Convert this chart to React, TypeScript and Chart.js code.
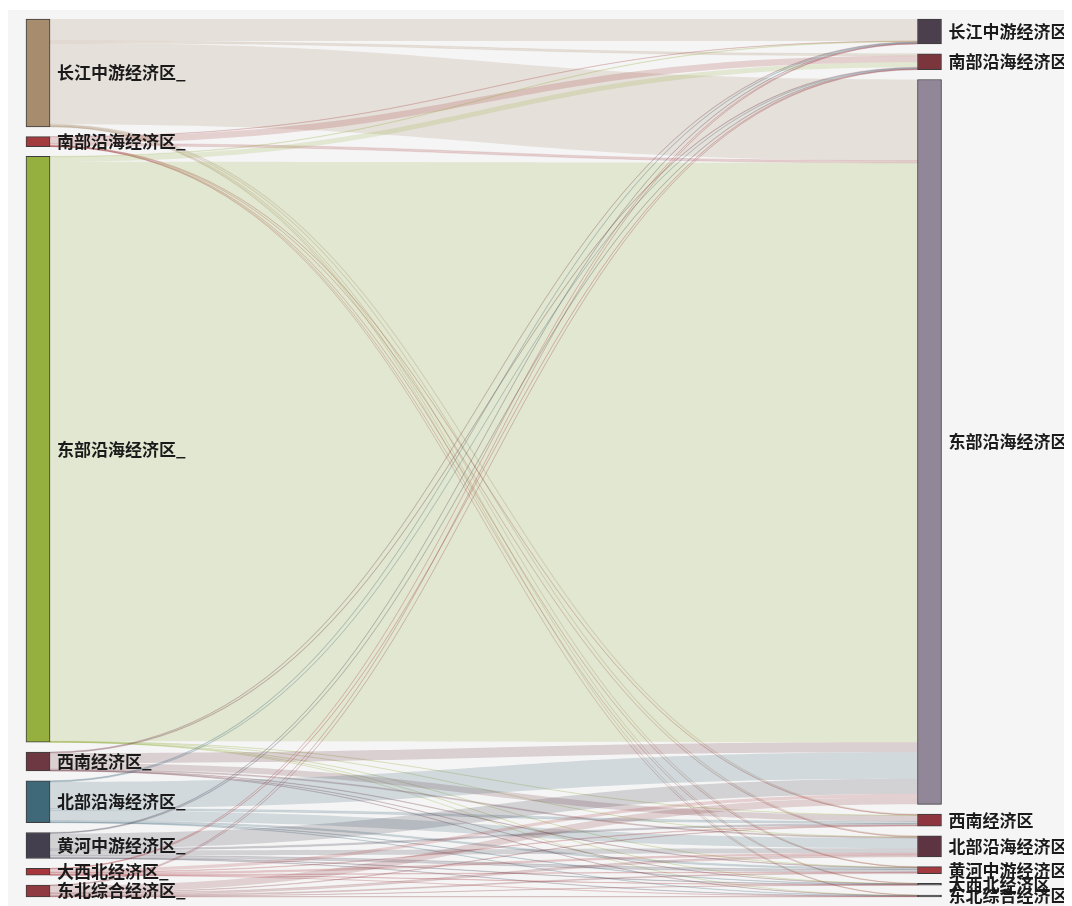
import React, { useEffect, useRef } from 'react';
import { Chart, registerables } from 'chart.js';

Chart.register(...registerables);

// ---- data ----
const sourceLabels = ['长江中游经济区_', '南部沿海经济区_', '东部沿海经济区_', '西南经济区_', '北部沿海经济区_', '黄河中游经济区_', '大西北经济区_', '东北综合经济区_'];
const targetLabels = ['长江中游经济区', '南部沿海经济区', '东部沿海经济区', '西南经济区', '北部沿海经济区', '黄河中游经济区', '大西北经济区', '东北综合经济区'];

// flows from each source node to targets (in targetLabels order)
const fromChangjiang = [22, 2, 81, 0.8, 0.8, 0.5, 0.3, 0.3];
const fromNanbu = [0.3, 6.5, 2.2, 0.3, 0.3, 0.2, 0.1, 0.1];
const fromDongbu = [0.5, 5, 578.5, 0.3, 0.3, 0.2, 0.1, 0.1];
const fromXinan = [0.5, 0.6, 10, 6, 1, 0.5, 0.2, 0.2];
const fromBeibu = [0.6, 0.6, 26.5, 2, 10, 1.5, 0.4, 0.4];
const fromHuanghe = [0.5, 0.6, 15.2, 1.5, 5, 2.5, 0.4, 0.3];
const fromXibei = [0.3, 0.3, 3.2, 0.6, 1.6, 0.6, 0.3, 0.1];
const fromDongbei = [0.3, 0.4, 7.1, 0.5, 2, 1.0, 0.2, 0.5];

const sourceColors = ['#a88c6e', '#a33a3e', '#95b03f', '#6e3842', '#3f6878', '#443f4e', '#a8353a', '#8e3a40'];
const targetColors = ['#4b3f4d', '#7a353d', '#928798', '#8e3540', '#5f3442', '#a33a40', '#3a3a3a', '#3a3a3a'];

const flows = [fromChangjiang, fromNanbu, fromDongbu, fromXinan, fromBeibu, fromHuanghe, fromXibei, fromDongbei];

function rgba(hex: string, a: number) {
  const n = parseInt(hex.slice(1), 16);
  return `rgba(${(n >> 16) & 255},${(n >> 8) & 255},${n & 255},${a})`;
}

export default function App() {
  const ref = useRef<HTMLCanvasElement | null>(null);

  useEffect(() => {
    document.documentElement.style.overflow = 'hidden';
    if (!ref.current) return;
    const nodeGap = 9.7;
    const nS = sourceLabels.length;
    const nT = targetLabels.length;
    const srcTot = flows.map((r) => r.reduce((a, b) => a + b, 0));
    const tgtTot = targetLabels.map((_, j) => flows.reduce((a, r) => a + r[j], 0));
    const total = srcTot.reduce((a, b) => a + b, 0);
    const yMax = total + nodeGap * (nS - 1);
    const srcY0: number[] = [];
    let acc = 0;
    srcTot.forEach((v) => { srcY0.push(acc); acc += v + nodeGap; });
    const tgtY0: number[] = [];
    acc = 0;
    tgtTot.forEach((v) => { tgtY0.push(acc); acc += v + nodeGap; });

    // link offsets
    const links: { s: number; t: number; sy0: number; sy1: number; ty0: number; ty1: number }[] = [];
    const sOff = srcY0.slice();
    const tOff = tgtY0.slice();
    const tmp: any = {};
    for (let i = 0; i < nS; i++) {
      for (let j = 0; j < nT; j++) {
        const v = flows[i][j];
        tmp[i + '_' + j] = { s: i, t: j, sy0: sOff[i], sy1: sOff[i] + v, ty0: 0, ty1: 0 };
        sOff[i] += v;
      }
    }
    for (let j = 0; j < nT; j++) {
      for (let i = 0; i < nS; i++) {
        const v = flows[i][j];
        const l = tmp[i + '_' + j];
        l.ty0 = tOff[j];
        l.ty1 = tOff[j] + v;
        tOff[j] += v;
      }
    }
    for (let i = 0; i < nS; i++) for (let j = 0; j < nT; j++) links.push(tmp[i + '_' + j]);

    const halfW = 12;

    const bgPlugin = {
      id: 'bg',
      beforeDraw(chart: any) {
        const c = chart.ctx;
        c.save();
        c.fillStyle = '#f5f5f5';
        c.fillRect(0, 2, chart.width, chart.height - 2);
        c.restore();
      },
    };

    const flowPlugin = {
      id: 'flows',
      beforeDatasetsDraw(chart: any) {
        const c = chart.ctx;
        const xs = chart.scales.x;
        const ys = chart.scales.y;
        const x0 = xs.getPixelForValue(0) + halfW;
        const x1 = xs.getPixelForValue(1) - halfW;
        const xm = (x0 + x1) / 2;
        c.save();
        links.forEach((l) => {
          const a0 = ys.getPixelForValue(l.sy0);
          const a1 = ys.getPixelForValue(l.sy1);
          const b0 = ys.getPixelForValue(l.ty0);
          const b1 = ys.getPixelForValue(l.ty1);
          const col = sourceColors[l.s];
          c.beginPath();
          c.moveTo(x0, a0);
          c.bezierCurveTo(xm, a0, xm, b0, x1, b0);
          c.lineTo(x1, b1);
          c.bezierCurveTo(xm, b1, xm, a1, x0, a1);
          c.closePath();
          c.fillStyle = rgba(col, 0.2);
          c.fill();
          if (l.sy1 - l.sy0 < 3) {
            c.strokeStyle = rgba(col, 0.25);
            c.lineWidth = 0.6;
            c.stroke();
          }
        });
        c.restore();
      },
    };

    const labelPlugin = {
      id: 'labels',
      afterDatasetsDraw(chart: any) {
        const c = chart.ctx;
        const xs = chart.scales.x;
        const ys = chart.scales.y;
        c.save();
        c.font = 'bold 17px "Noto Sans CJK SC", "Noto Sans", sans-serif';
        c.fillStyle = '#1a1a1a';
        c.textBaseline = 'middle';
        c.textAlign = 'left';
        const lx = xs.getPixelForValue(0) + halfW + 7;
        const rx = xs.getPixelForValue(1) + halfW + 7;
        sourceLabels.forEach((t, i) => {
          c.fillText(t, lx, ys.getPixelForValue(srcY0[i] + srcTot[i] / 2));
        });
        targetLabels.forEach((t, j) => {
          c.fillText(t, rx, ys.getPixelForValue(tgtY0[j] + tgtTot[j] / 2));
        });
        c.restore();
      },
    };

    const datasets = sourceLabels.map((_, k) => ({
      data: [
        [srcY0[k], srcY0[k] + srcTot[k]],
        [tgtY0[k], tgtY0[k] + tgtTot[k]],
      ],
      backgroundColor: [sourceColors[k], targetColors[k]],
      borderColor: '#3c3c3c',
      borderWidth: 1,
      borderSkipped: false,
      barThickness: 24,
      grouped: false,
      clip: false,
    }));

    const chart = new Chart(ref.current, {
      type: 'bar',
      data: { labels: ['source', 'target'], datasets: datasets as any },
      options: {
        animation: false,
        responsive: false,
        layout: { padding: { left: 30, right: 142.5, top: 11, bottom: 9 } },
        scales: {
          x: { type: 'category', offset: false, display: false },
          y: { type: 'linear', min: 0, max: yMax, reverse: true, display: false },
        },
        plugins: { legend: { display: false }, tooltip: { enabled: false } },
      },
      plugins: [bgPlugin, flowPlugin, labelPlugin],
    });
    return () => chart.destroy();
  }, []);

  return (
    <div style={{ width: 1064, height: 898 }}>
      <canvas ref={ref} width={1064} height={898} style={{ display: 'block' }} />
    </div>
  );
}
